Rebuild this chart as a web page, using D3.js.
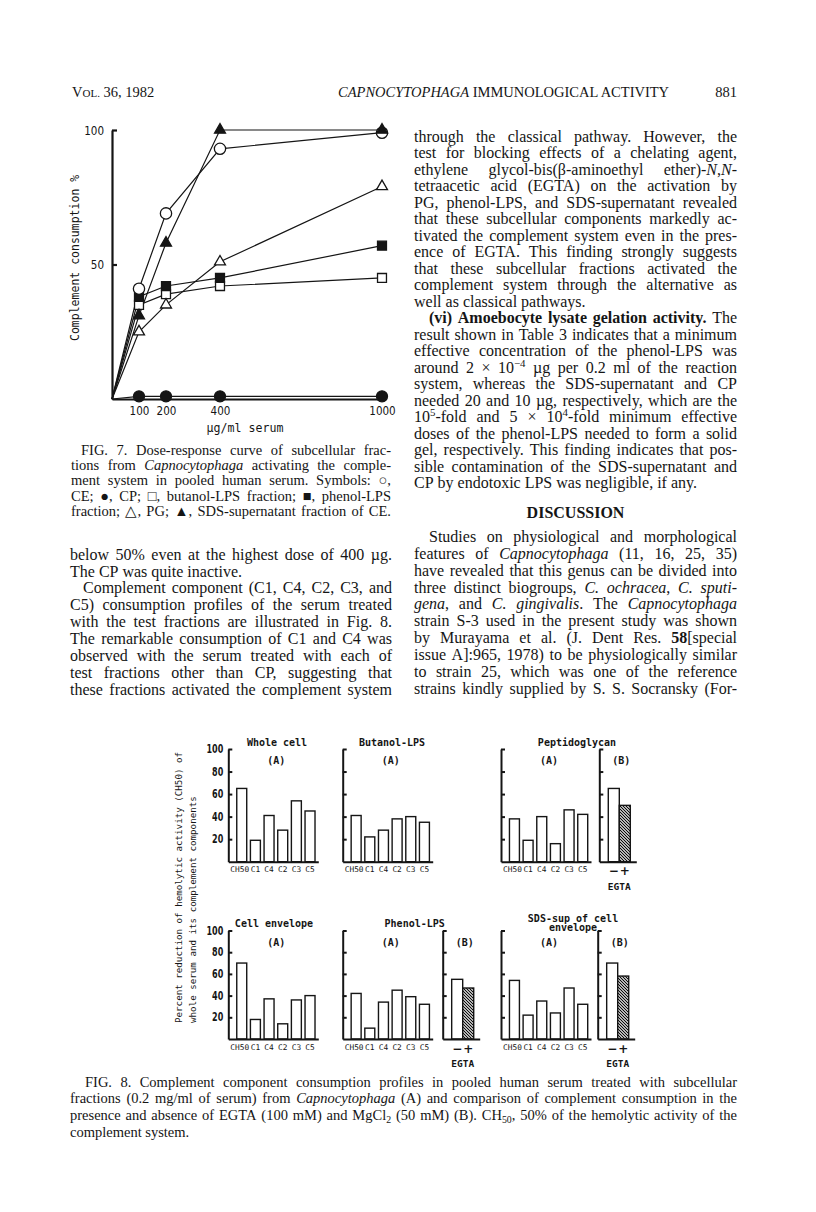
<!DOCTYPE html>
<html>
<head>
<meta charset="utf-8">
<script src="https://cdn.jsdelivr.net/npm/d3@7"></script>
<style>
  body { margin: 0; background: #fff; }
</style>
</head>
<body>
<div id="page"></div>
<script>
// ---- Fig. 7 data (percent complement consumption vs dose, ug/ml serum)
const doses = [0, 100, 200, 400, 1000];
const ceVals = [0, 41, 69, 93, 99];
const cpVals = [0, 1, 1, 1, 1];
const butanolVals = [0, 35, 39, 42, 45];
const phenolVals = [0, 38, 42, 45, 57];
const pgVals = [0, 25, 35, 51, 79];
const sdsVals = [0, 31, 58, 100, 100];
const fig7YTicks = [50, 100];
const fig7XTicks = [100, 200, 400, 1000];

// ---- Fig. 8 data (percent reduction)
const components = ["CH50", "C1", "C4", "C2", "C3", "C5"];
const egta = ["\u2212", "+"];
const wholeCell = [65, 19, 41, 28, 54, 45];
const butanolLPS = [41, 22, 28, 38, 40, 35];
const peptidoglycanA = [38, 19, 40, 16, 46, 42];
const peptidoglycanB = [65, 50];
const cellEnvelope = [70, 18, 37, 14, 36, 40];
const phenolA = [42, 10, 34, 45, 39, 32];
const phenolB = [55, 47];
const sdsA = [54, 22, 35, 24, 47, 32];
const sdsB = [70, 58];
const fig8Ticks = [20, 40, 60, 80, 100];

// ---- page text
const rightTop1 = [
  "through the classical pathway. However, the",
  "test for blocking effects of a chelating agent,",
  "ethylene glycol-bis(\u03b2-aminoethyl ether)-*N*,*N*-",
  "tetraacetic acid (EGTA) on the activation by",
  "PG, phenol-LPS, and SDS-supernatant revealed",
  "that these subcellular components markedly ac-",
  "tivated the complement system even in the pres-",
  "ence of EGTA. This finding strongly suggests",
  "that these subcellular fractions activated the",
  "complement system through the alternative as",
  "well as classical pathways."
];
const rightTop2 = [
  "**(vi) Amoebocyte lysate gelation activity.** The",
  "result shown in Table 3 indicates that a minimum",
  "effective concentration of the phenol-LPS was",
  "around 2 \u00d7 10^\u22124^ \u00b5g per 0.2 ml of the reaction",
  "system, whereas the SDS-supernatant and CP",
  "needed 20 and 10 \u00b5g, respectively, which are the",
  "10^5^-fold and 5 \u00d7 10^4^-fold minimum effective",
  "doses of the phenol-LPS needed to form a solid",
  "gel, respectively. This finding indicates that pos-",
  "sible contamination of the SDS-supernatant and",
  "CP by endotoxic LPS was negligible, if any."
];
const discussion = [
  "Studies on physiological and morphological",
  "features of *Capnocytophaga* (11, 16, 25, 35)",
  "have revealed that this genus can be divided into",
  "three distinct biogroups, *C. ochracea*, *C. sputi-*",
  "*gena*, and *C. gingivalis*. The *Capnocytophaga*",
  "strain S-3 used in the present study was shown",
  "by Murayama et al. (J. Dent Res. **58**[special",
  "issue A]:965, 1978) to be physiologically similar",
  "to strain 25, which was one of the reference",
  "strains kindly supplied by S. S. Socransky (For-"
];
const leftLow1 = [
  "below 50% even at the highest dose of 400 \u00b5g.",
  "The CP was quite inactive."
];
const leftLow2 = [
  "Complement component (C1, C4, C2, C3, and",
  "C5) consumption profiles of the serum treated",
  "with the test fractions are illustrated in Fig. 8.",
  "The remarkable consumption of C1 and C4 was",
  "observed with the serum treated with each of",
  "test fractions other than CP, suggesting that",
  "these fractions activated the complement system"
];
const fig7Caption = [
  "FIG. 7. Dose-response curve of subcellular frac-",
  "tions from *Capnocytophaga* activating the comple-",
  "ment system in pooled human serum. Symbols: \u25cb,",
  "CE; \u25cf, CP; \u25a1, butanol-LPS fraction; \u25a0, phenol-LPS",
  "fraction; \u25b3, PG; \u25b2, SDS-supernatant fraction of CE."
];
const fig8Caption = [
  "FIG. 8. Complement component consumption profiles in pooled human serum treated with subcellular",
  "fractions (0.2 mg/ml of serum) from *Capnocytophaga* (A) and comparison of complement consumption in the",
  "presence and absence of EGTA (100 mM) and MgCl_2_ (50 mM) (B). CH_50_, 50% of the hemolytic activity of the",
  "complement system."
];

const serif = "'Liberation Serif','Times New Roman',serif";
const mono = "'DejaVu Sans Mono',monospace";
const sans = "'DejaVu Sans',sans-serif";
const ink = "#151515";

const svg = d3.select("#page").append("svg")
  .attr("width", 816).attr("height", 1212)
  .style("background", "#fff");

// ---------- justified text helpers
function parseRuns(str) {
  const re = /\*\*(.+?)\*\*|\*(.+?)\*|\^(.+?)\^|_(.+?)_|([^*^_]+)/g;
  const runs = [];
  let m;
  while ((m = re.exec(str))) {
    if (m[1]) runs.push({t: m[1], s: "b"});
    else if (m[2]) runs.push({t: m[2], s: "i"});
    else if (m[3]) runs.push({t: m[3], s: "sup"});
    else if (m[4]) runs.push({t: m[4], s: "sub"});
    else runs.push({t: m[5], s: ""});
  }
  return runs;
}

function toWords(runs) {
  const words = [[]];
  runs.forEach(r => {
    r.t.split(" ").forEach((p, i) => {
      if (i > 0) words.push([]);
      if (p) words[words.length - 1].push({t: p, s: r.s});
    });
  });
  return words.filter(w => w.length);
}

function drawLine(g, str, x0, x1, y, size, justify) {
  const words = toWords(parseRuns(str));
  const nodes = words.map(w => {
    const t = g.append("text").attr("y", y).attr("font-size", size);
    let shift = 0;
    w.forEach(r => {
      const ts = t.append("tspan").text(r.t);
      if (r.s === "b") ts.attr("font-weight", "bold");
      if (r.s === "i") ts.attr("font-style", "italic");
      if (r.s === "sup" || r.s === "sub") {
        const d = r.s === "sup" ? -size * 0.35 : size * 0.22;
        ts.attr("font-size", size * 0.68).attr("dy", d - shift);
        shift = d;
      } else if (shift) {
        ts.attr("dy", -shift);
        shift = 0;
      }
    });
    return t;
  });
  const widths = nodes.map(n => n.node().getComputedTextLength());
  const total = d3.sum(widths);
  const gap = (justify && nodes.length > 1) ? (x1 - x0 - total) / (nodes.length - 1) : size * 0.25;
  let x = x0;
  nodes.forEach((n, i) => {
    n.attr("x", x);
    x += widths[i] + gap;
  });
}

function drawPara(g, lines, x0, x1, yStart, lh, size, indent, justifyLast) {
  lines.forEach((l, i) => {
    const last = i === lines.length - 1;
    drawLine(g, l, x0 + (i === 0 ? indent : 0), x1, yStart + i * lh, size, !last || justifyLast);
  });
}

// squeeze axis labels horizontally, like the condensed lettering of the figures
function condense(sel, perChar) {
  sel.each(function () {
    const n = this.textContent.length;
    if (n) d3.select(this).attr("textLength", n * perChar).attr("lengthAdjust", "spacingAndGlyphs");
  });
}

// ---------- running head
const head = svg.append("g").attr("font-family", serif).attr("fill", ink);
const vol = head.append("text").attr("x", 72).attr("y", 97).attr("font-size", 14.5);
vol.append("tspan").text("V");
vol.append("tspan").attr("font-size", 11).text("OL.");
vol.append("tspan").text(" 36, 1982");
const title = head.append("text").attr("x", 338).attr("y", 97).attr("font-size", 14.5);
title.append("tspan").attr("font-style", "italic").text("CAPNOCYTOPHAGA");
title.append("tspan").text(" IMMUNOLOGICAL ACTIVITY");
head.append("text").attr("x", 737).attr("y", 97).attr("font-size", 14.5)
  .attr("text-anchor", "end").text("881");

// ---------- body text
const body = svg.append("g").attr("font-family", serif).attr("fill", ink);
const colL = [70, 392], colR = [414, 737];
drawPara(body, rightTop1, colR[0], colR[1], 141.5, 16.5, 16, 0, false);
drawPara(body, rightTop2, colR[0], colR[1], 141.5 + 11 * 16.5, 16.5, 16, 15, false);
body.append("text").attr("x", (colR[0] + colR[1]) / 2).attr("y", 518)
  .attr("text-anchor", "middle").attr("font-size", 16).attr("font-weight", "bold")
  .text("DISCUSSION");
drawPara(body, discussion, colR[0], colR[1], 542, 16.85, 16, 15, true);
drawPara(body, leftLow1, colL[0], colL[1], 559.7, 16.85, 16, 0, false);
drawPara(body, leftLow2, colL[0], colL[1], 559.7 + 2 * 16.85, 16.85, 16, 13, true);
drawPara(body, fig7Caption, 71, 391, 454.5, 15.4, 14.5, 10, true);
drawPara(body, fig8Caption, 70, 737, 1086.5, 16.8, 14.5, 15, false);

// ---------- Fig. 7
const fig7 = svg.append("g");
const x7 = d3.scaleLinear().domain([0, 1000]).range([112, 382]);
const y7 = d3.scaleLinear().domain([0, 100]).range([399, 130]);

const series7 = [
  {vals: cpVals, type: d3.symbolCircle, size: 95, fill: ink},
  {vals: butanolVals, type: d3.symbolSquare, size: 80, fill: "#fff"},
  {vals: phenolVals, type: d3.symbolSquare, size: 80, fill: ink},
  {vals: pgVals, type: d3.symbolTriangle, size: 52, fill: "#fff"},
  {vals: ceVals, type: d3.symbolCircle, size: 100, fill: "#fff"},
  {vals: sdsVals, type: d3.symbolTriangle, size: 52, fill: ink}
];

const line7 = d3.line().x(d => x7(d[0])).y(d => y7(d[1]));
series7.forEach(s => {
  fig7.append("path")
    .datum(doses.map((d, i) => [d, s.vals[i]]))
    .attr("d", line7)
    .attr("fill", "none").attr("stroke", ink).attr("stroke-width", 1.2);
});

const yAx7 = fig7.append("g").attr("transform", `translate(${x7(0)},0)`)
  .call(d3.axisLeft(y7).tickValues(fig7YTicks).tickSizeInner(-5).tickSizeOuter(0).tickPadding(8));
const xAx7 = fig7.append("g").attr("transform", `translate(0,${y7(0)})`)
  .call(d3.axisBottom(x7).tickValues(fig7XTicks).tickFormat(d3.format("d")).tickSize(0).tickPadding(7));
[yAx7, xAx7].forEach(a => {
  a.selectAll("path,line").attr("stroke", ink).attr("stroke-width", 2.2);
  a.selectAll("text").attr("font-family", sans).attr("font-size", 13).attr("fill", ink);
  condense(a.selectAll("text"), 6.6);
});

series7.forEach(s => {
  fig7.selectAll(null)
    .data(doses.map((d, i) => [d, s.vals[i]]).slice(1))
    .join("path")
    .attr("transform", d => `translate(${x7(d[0])},${y7(d[1])})`)
    .attr("d", d3.symbol().type(s.type).size(s.size))
    .attr("fill", s.fill).attr("stroke", ink).attr("stroke-width", 1.3);
});

fig7.append("text")
  .attr("transform", `translate(79,341) rotate(-90)`)
  .attr("font-family", mono).attr("font-size", 11.5).attr("fill", ink)
  .text("Complement consumption %");
fig7.append("text")
  .attr("x", 245).attr("y", 432)
  .attr("text-anchor", "middle")
  .attr("font-family", mono).attr("font-size", 11.6).attr("fill", ink)
  .text("\u00b5g/ml serum");

// ---------- Fig. 8
const fig8 = svg.append("g");
const defs = svg.append("defs");
const hatch = defs.append("pattern").attr("id", "hatch")
  .attr("patternUnits", "userSpaceOnUse").attr("width", 3).attr("height", 3);
hatch.append("rect").attr("width", 3).attr("height", 3).attr("fill", "#fff");
hatch.append("path").attr("d", "M-1,-1L4,4M-1,2L1,4M2,-1L4,1")
  .attr("stroke", "#000").attr("stroke-width", 1.1);

const yTop = d3.scaleLinear().domain([0, 100]).range([861.7, 749]);
const yBot = d3.scaleLinear().domain([0, 100]).range([1039, 930.5]);

const panels = [
  {ax: 228.3, y: yTop, vals: wholeCell, labels: true, title: ["Whole cell"], tx: 48.7, ty: 745.5},
  {ax: 342.7, y: yTop, vals: butanolLPS, labels: false, title: ["Butanol-LPS"], tx: 49.3, ty: 745.5},
  {ax: 501, y: yTop, vals: peptidoglycanA, labels: false, title: ["Peptidoglycan"], tx: 76, ty: 745.5,
   bx: 599.3, bVals: peptidoglycanB},
  {ax: 228.3, y: yBot, vals: cellEnvelope, labels: true, title: ["Cell envelope"], tx: 45.7, ty: 927},
  {ax: 342.7, y: yBot, vals: phenolA, labels: false, title: ["Phenol-LPS"], tx: 72, ty: 927,
   bx: 442.7, bVals: phenolB},
  {ax: 501, y: yBot, vals: sdsA, labels: false, title: ["SDS-sup of cell", "envelope"], tx: 72, ty: 921.8,
   bx: 597.7, bVals: sdsB}
];

function styleAxis(a) {
  a.selectAll("path,line").attr("stroke", ink).attr("stroke-width", 2);
  a.selectAll("text").attr("fill", ink);
}

panels.forEach(p => {
  const g = fig8.append("g");
  const y = p.y;
  const xA = d3.scaleBand().domain(components).range([p.ax, p.ax + 90])
    .paddingInner(0.27).paddingOuter(0.43).align(0.72);

  g.selectAll("rect.bar").data(p.vals).join("rect").attr("class", "bar")
    .attr("x", (d, i) => xA(components[i])).attr("width", xA.bandwidth())
    .attr("y", d => y(d)).attr("height", d => y(0) - y(d))
    .attr("fill", "#fff").attr("stroke", ink).attr("stroke-width", 1.4);

  const ya = g.append("g").attr("transform", `translate(${p.ax},0)`)
    .call(d3.axisLeft(y).tickValues(fig8Ticks).tickSizeInner(-4).tickSizeOuter(0).tickPadding(5)
      .tickFormat(p.labels ? d3.format("d") : () => ""));
  styleAxis(ya);
  ya.selectAll("text").attr("font-family", sans).attr("font-size", 11.5).attr("font-weight", "bold");
  condense(ya.selectAll("text"), 5.6);

  const xa = g.append("g").attr("transform", `translate(0,${y(0)})`)
    .call(d3.axisBottom(xA).tickSize(0).tickPadding(5));
  styleAxis(xa);
  xa.selectAll("text").attr("font-family", mono).attr("font-size", 7.8)
    .attr("dx", d => d === "CH50" ? -2 : 0);

  p.title.forEach((t, i) => {
    g.append("text").attr("x", p.ax + p.tx).attr("y", p.ty + i * 9.4)
      .attr("text-anchor", "middle").attr("font-family", mono).attr("font-size", 10)
      .attr("font-weight", "bold").attr("fill", ink).text(t);
  });
  g.append("text").attr("x", p.ax + 48).attr("y", y(100) + 15)
    .attr("text-anchor", "middle").attr("font-family", mono).attr("font-size", 10)
    .attr("font-weight", "bold").attr("fill", ink).text("(A)");

  if (p.bVals) {
    const xB = d3.scaleBand().domain(egta).range([p.bx, p.bx + 37])
      .paddingInner(0).paddingOuter(0.68).align(0.6);
    g.selectAll("rect.bbar").data(p.bVals).join("rect").attr("class", "bbar")
      .attr("x", (d, i) => xB(egta[i])).attr("width", xB.bandwidth())
      .attr("y", d => y(d)).attr("height", d => y(0) - y(d))
      .attr("fill", (d, i) => i === 1 ? "url(#hatch)" : "#fff")
      .attr("stroke", ink).attr("stroke-width", 1.4);
    const yb = g.append("g").attr("transform", `translate(${p.bx},0)`)
      .call(d3.axisLeft(y).tickValues(fig8Ticks).tickSizeInner(-4).tickSizeOuter(0).tickFormat(() => ""));
    styleAxis(yb);
    const xb = g.append("g").attr("transform", `translate(0,${y(0)})`)
      .call(d3.axisBottom(xB).tickSize(0).tickPadding(5));
    styleAxis(xb);
    xb.selectAll("text").attr("font-family", sans).attr("font-size", 12).attr("font-weight", "bold");
    g.append("text").attr("x", p.bx + 20).attr("y", y(0) + 28)
      .attr("text-anchor", "middle").attr("font-family", mono).attr("font-size", 9.5)
      .attr("font-weight", "bold").attr("fill", ink).text("EGTA");
    g.append("text").attr("x", p.bx + 22).attr("y", y(100) + 15)
      .attr("text-anchor", "middle").attr("font-family", mono).attr("font-size", 10)
      .attr("font-weight", "bold").attr("fill", ink).text("(B)");
  }
});

const ylab8 = [
  "Percent reduction of hemolytic activity (CH50) of",
  "whole serum and its complement components"
];
ylab8.forEach((t, i) => {
  fig8.append("text")
    .attr("transform", `translate(${181.5 + i * 14},1023) rotate(-90)`)
    .attr("font-family", mono).attr("font-size", 9.2).attr("fill", ink)
    .text(t);
});
</script>
</body>
</html>
